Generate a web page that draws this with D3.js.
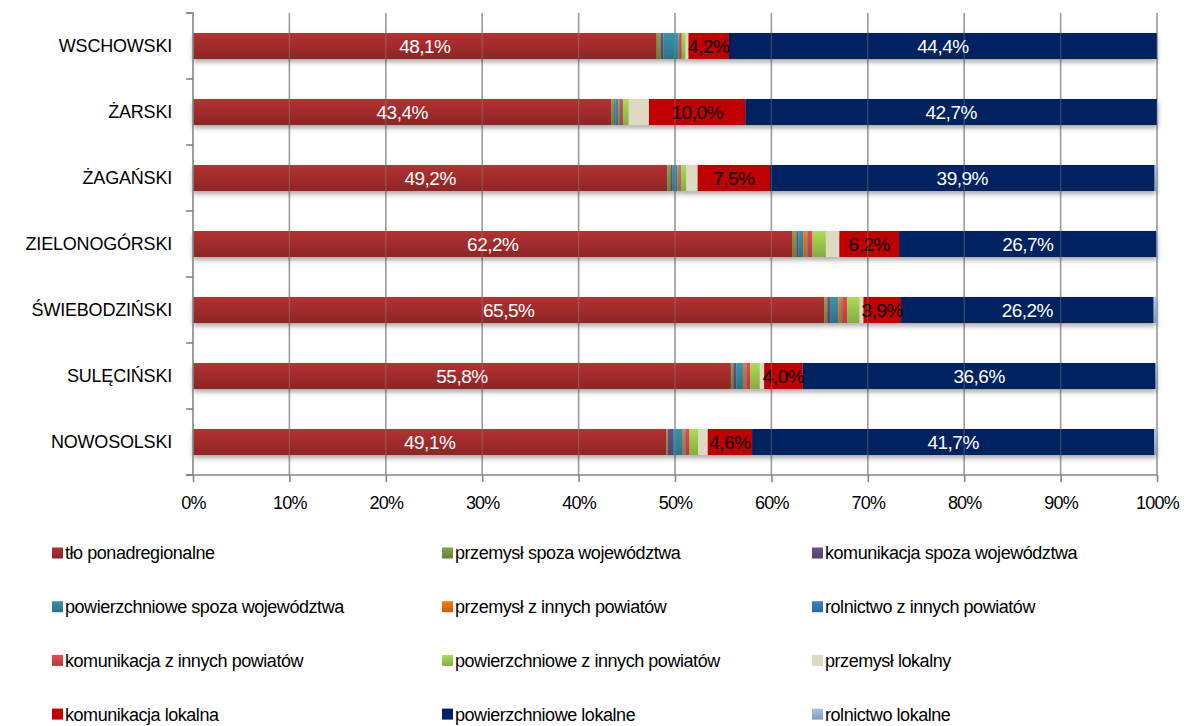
<!DOCTYPE html>
<meta charset="utf-8">
<style>
body { margin: 0; background: #fff; }
text { font-family: "Liberation Sans", Arial, sans-serif; }
.grid line { stroke: #a0a0a0; stroke-width: 1.6; }
.axis path, .axis line { stroke: #868686; stroke-width: 1.6; }
.axis text { font-size: 18px; fill: #000; }
</style>
<body>
<svg width="1184" height="726"></svg>
<script src="https://d3js.org/d3.v7.min.js"></script>
<script>

var counties = ["WSCHOWSKI", "ŻARSKI", "ŻAGAŃSKI", "ZIELONOGÓRSKI", "ŚWIEBODZIŃSKI", "SULĘCIŃSKI", "NOWOSOLSKI"];

var seriesNames = [
  "tło ponadregionalne", "przemysł spoza województwa", "komunikacja spoza województwa",
  "powierzchniowe spoza województwa", "przemysł z innych powiatów", "rolnictwo z innych powiatów",
  "komunikacja z innych powiatów", "powierzchniowe z innych powiatów", "przemysł lokalny",
  "komunikacja lokalna", "powierzchniowe lokalne", "rolnictwo lokalne"
];

// one array per series, values in county order (percent)
var tlo      = [48.1, 43.4, 49.2, 62.2, 65.5, 55.8, 49.1];
var przSpoza = [0.4, 0.3, 0.35, 0.4, 0.3, 0.25, 0.15];
var komSpoza = [0.3, 0.1, 0.2, 0.2, 0.35, 0.3, 0.55];
var powSpoza = [1.5, 0.35, 0.5, 0.5, 0.8, 0.7, 1.0];
var przInnych = [0.1, 0.15, 0.2, 0.35, 0.3, 0.25, 0.2];
var rolInnych = [0.1, 0.1, 0.1, 0.1, 0.1, 0.1, 0.1];
var komInnych = [0.2, 0.2, 0.1, 0.5, 0.5, 0.4, 0.4];
var powInnych = [0.4, 0.6, 0.5, 1.4, 1.3, 1.0, 0.9];
var przLok   = [0.3, 2.1, 1.2, 1.4, 0.4, 0.45, 1.0];
var komLok   = [4.2, 10.0, 7.5, 6.2, 3.9, 4.0, 4.6];
var powLok   = [44.4, 42.7, 39.9, 26.7, 26.2, 36.6, 41.7];
var rolLok   = [0.0, 0.1, 0.2, 0.1, 0.3, 0.15, 0.25];

var xTicks = [0, 10, 20, 30, 40, 50, 60, 70, 80, 90, 100];

var colors = ["#a32c2c", "#77933c", "#604a7b", "#31859c", "#e46c0a", "#2f74c0",
              "#d04444", "#9bc64c", "#ddd9c3", "#c00000", "#002060", "#95b3d7"];
var flat = [false, false, false, false, false, false, false, false, true, true, true, false];
var labelled = {0: "#fff", 9: "#000", 10: "#fff"};

var values = [tlo, przSpoza, komSpoza, powSpoza, przInnych, rolInnych, komInnych, powInnych, przLok, komLok, powLok, rolLok];

var table = counties.map(function(c, i) {
  var row = {county: c};
  seriesNames.forEach(function(s, j) { row[s] = values[j][i]; });
  return row;
});

var svg = d3.select("svg");

var x = d3.scaleLinear().domain([0, 100]).range([193, 1157]);
var y = d3.scaleBand().domain(counties).range([13, 475]).paddingInner(0.606).paddingOuter(0.303);

var defs = svg.append("defs");
colors.forEach(function(c, i) {
  var g = defs.append("linearGradient").attr("id", "g" + i)
      .attr("x1", 0).attr("y1", 0).attr("x2", 0).attr("y2", 1);
  var top = flat[i] ? c : d3.color(c).brighter(0.3);
  var bot = flat[i] ? c : d3.color(c).darker(0.4);
  g.append("stop").attr("offset", "0%").attr("stop-color", top);
  g.append("stop").attr("offset", "100%").attr("stop-color", bot);
});
var f = defs.append("filter").attr("id", "shadow").attr("x", "-5%").attr("y", "-20%").attr("width", "110%").attr("height", "160%");
f.append("feDropShadow").attr("dx", 0).attr("dy", 3).attr("stdDeviation", 2.5)
  .attr("flood-color", "#000").attr("flood-opacity", 0.35);

// gridlines
svg.append("g").attr("class", "grid")
  .selectAll("line").data(xTicks.slice(1)).enter().append("line")
    .attr("x1", function(d) { return x(d); }).attr("x2", function(d) { return x(d); })
    .attr("y1", 13).attr("y2", 475);

var stack = d3.stack().keys(seriesNames)(table);

var bars = svg.append("g");
var rows = bars.selectAll("g.row").data(counties).enter().append("g")
    .attr("filter", "url(#shadow)");

stack.forEach(function(layer, j) {
  layer.forEach(function(d, i) {
    var w = x(d[1]) - x(d[0]);
    if (w <= 0) return;
    d3.select(rows.nodes()[i])
      .append("rect")
        .attr("x", x(d[0]))
        .attr("y", y(counties[i]))
        .attr("width", w)
        .attr("height", y.bandwidth())
        .attr("fill", "url(#g" + j + ")");
  });
});

// segment labels
stack.forEach(function(layer, j) {
  if (!(j in labelled)) return;
  layer.forEach(function(d, i) {
    svg.append("text")
      .attr("x", (x(d[0]) + x(d[1])) / 2)
      .attr("y", y(counties[i]) + y.bandwidth() / 2)
      .attr("dy", "0.36em")
      .attr("text-anchor", "middle")
      .attr("font-size", 19)
      .attr("letter-spacing", -0.5)
      .attr("fill", labelled[j])
      .text(String(values[j][i].toFixed(1)).replace(".", ",") + "%");
  });
});

// faint gridline pass over bars
svg.append("g")
  .selectAll("line").data(xTicks.slice(1)).enter().append("line")
    .attr("x1", function(d) { return x(d); }).attr("x2", function(d) { return x(d); })
    .attr("y1", 13).attr("y2", 475)
    .attr("stroke", "#999").attr("stroke-width", 1.2).attr("opacity", 0.35);

// y axis
var ya = svg.append("g").attr("class", "axis").attr("transform", "translate(193,0)")
  .call(d3.axisLeft(y).tickSize(0).tickPadding(21));
ya.select(".domain").attr("d", "M-7,13H0V475H-7");
ya.selectAll(".tick text").attr("font-size", 19).attr("letter-spacing", -0.2);
var bounds = d3.range(counties.length + 1).map(function(i) { return 13 + i * 66; });
ya.selectAll("line.b").data(bounds).enter().append("line").attr("class", "b")
  .attr("x1", -7).attr("x2", 0).attr("y1", function(d) { return d; }).attr("y2", function(d) { return d; });

// x axis
var xa = svg.append("g").attr("class", "axis").attr("transform", "translate(0,475)")
  .call(d3.axisBottom(x).tickValues(xTicks).tickSize(7).tickPadding(14)
    .tickFormat(function(d) { return d + "%"; }));
xa.select(".domain").attr("d", "M186,0H1157");
xa.selectAll(".tick text").attr("font-size", 19).attr("letter-spacing", -0.8);

// legend
var legend = svg.append("g");
seriesNames.forEach(function(s, i) {
  var col = i % 3, row = Math.floor(i / 3);
  var lx = [52, 442, 812][col], ly = 553 + row * 53.7;
  legend.append("rect").attr("x", lx).attr("y", ly - 5.5).attr("width", 11).attr("height", 11)
    .attr("fill", "url(#g" + i + ")");
  legend.append("text").attr("x", lx + 13).attr("y", ly).attr("dy", "0.36em")
    .attr("font-size", 18).attr("letter-spacing", -0.45).text(s);
});

</script>
</body>
